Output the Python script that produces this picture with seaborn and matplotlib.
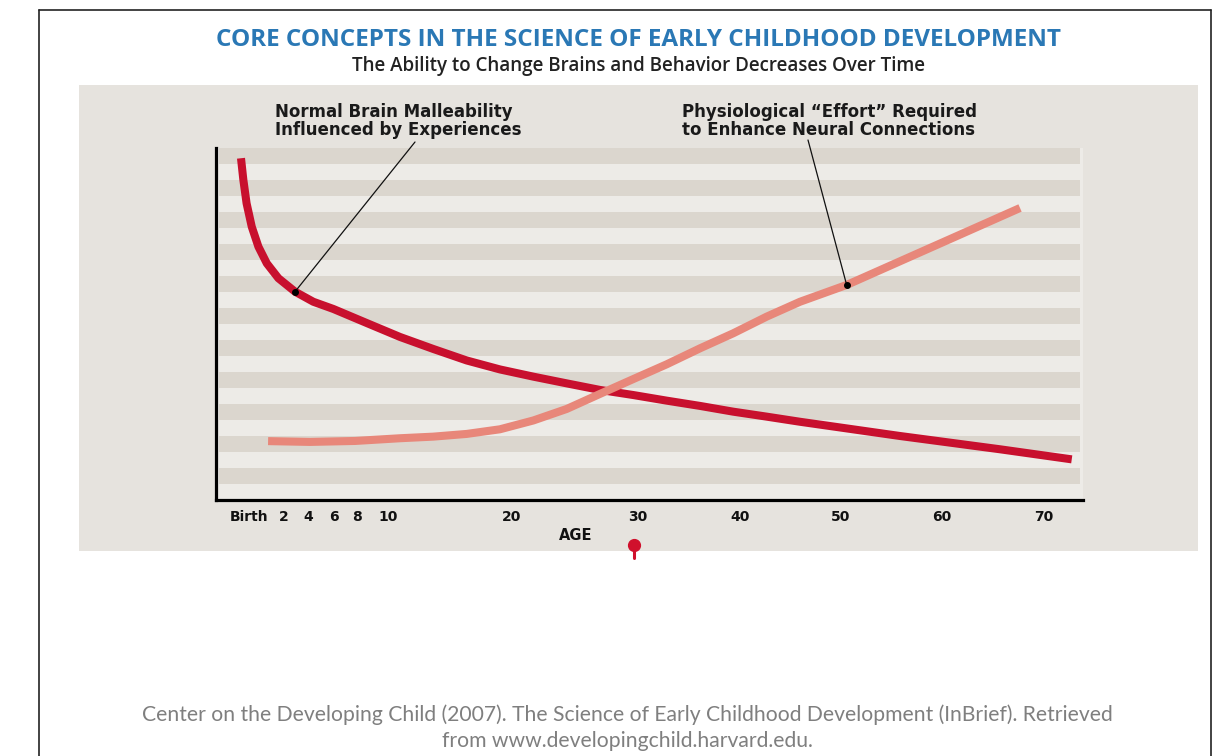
import numpy as np
import pandas as pd
import matplotlib
matplotlib.use("Agg")
import matplotlib.pyplot as plt
import matplotlib.transforms as mtrans
from matplotlib.patches import Rectangle
from matplotlib.lines import Line2D
import seaborn as sns

# ---------------- data ----------------
malleability_age = [0.0, 0.11, 0.26, 0.5, 0.81, 1.2, 1.74, 2.92, 4.41, 5.95,
                    8.63, 10.97, 13.65, 16.35, 19.03, 21.69, 24.34, 26.98, 29.63,
                    32.81, 36.08, 39.34, 42.64, 45.94, 55.84, 65.69, 72.72]
malleability_val = [21.36, 20.0, 18.54, 17.08, 15.83, 14.79, 13.86, 13.02, 12.39, 11.94,
                    11.06, 10.19, 9.44, 8.72, 8.16, 7.71, 7.29, 6.88, 6.56,
                    6.21, 5.88, 5.52, 5.21, 4.89, 4.0, 3.17, 2.54]

effort_age = [1.26, 4.15, 7.83, 10.97, 13.65, 16.35, 19.03, 21.69, 24.34, 26.98,
              29.63, 32.81, 36.08, 39.34, 42.64, 45.94, 50.56, 55.84, 67.65]
effort_val = [3.68, 3.63, 3.69, 3.86, 3.96, 4.13, 4.42, 4.97, 5.69, 6.63,
              7.56, 8.48, 9.48, 10.42, 11.46, 12.39, 13.44, 14.92, 18.25]

tick_ages = [0, 2, 4, 6, 8, 10, 20, 30, 40, 50, 60, 70]
tick_labels = ["Birth", "2", "4", "6", "8", "10", "20", "30", "40", "50", "60", "70"]

annot_texts = ["Normal Brain Malleability\nInfluenced by Experiences",
               "Physiological \u201cEffort\u201d Required\nto Enhance Neural Connections"]
annot_ages = [2.92, 50.56]

title = "CORE CONCEPTS IN THE SCIENCE OF EARLY CHILDHOOD DEVELOPMENT"
subtitle = "The Ability to Change Brains and Behavior Decreases Over Time"
footer = ("Center on the Developing Child (2007). The Science of Early Childhood "
          "Development (InBrief). Retrieved\nfrom www.developingchild.harvard.edu.")

# ---------------- style ----------------
RED = "#C8102E"
PINK = "#E8877A"
PANEL = "#E6E3DE"
LIGHT = "#EDEBE7"
DARK = "#DBD6CE"

sns.set_theme(style="white")
plt.rcParams["font.family"] = ["DejaVu Sans"]

W, H = 1225, 756
fig = plt.figure(figsize=(W / 100, H / 100), dpi=100)
fig.patch.set_facecolor("white")

def fx(px):
    return px / W

def fy(py):
    return 1 - py / H

# outer frame
for xs, ys in [((39, 39), (10, 760)), ((39, 1211), (10, 10)), ((1211, 1211), (10, 760))]:
    fig.add_artist(Line2D([fx(x) for x in xs], [fy(y) for y in ys], color="#222222",
                          lw=1.2, transform=fig.transFigure))

# gray panel
fig.add_artist(Rectangle((fx(79), fy(551)), fx(1198 - 79), (551 - 85) / H,
                         transform=fig.transFigure, facecolor=PANEL, edgecolor="none",
                         zorder=0))

# axes
ax_l, ax_r, ax_t, ax_b = 216, 1083, 148, 500
ax = fig.add_axes([fx(ax_l), fy(ax_b), fx(ax_r - ax_l), (ax_b - ax_t) / H])
ax.set_facecolor(LIGHT)

# piecewise age scale of the original graphic
scale_age = np.array([-5, 0, 2, 4, 6, 8, 10, 20, 30, 40, 50, 60, 70, 80], dtype=float)
scale_pos = np.array([133.5, 241, 284, 308, 334, 357, 388, 512, 638, 740, 841, 942, 1044, 1146],
                     dtype=float)

def fwd(a):
    return np.interp(a, scale_age, scale_pos)

def inv(p):
    return np.interp(p, scale_pos, scale_age)

ax.set_xscale("function", functions=(fwd, inv))
ax.set_xlim(inv(ax_l), inv(ax_r))
ax.set_ylim(0, 22)

# stripes
xmax_frac = (1080 - ax_l) / (ax_r - ax_l)
for k in range(11):
    ax.axhspan(2 * k + 1, 2 * k + 2, xmin=0.003, xmax=xmax_frac, color=DARK, lw=0, zorder=0)

df_m = pd.DataFrame({"age": malleability_age, "value": malleability_val})
df_e = pd.DataFrame({"age": effort_age, "value": effort_val})
sns.lineplot(data=df_e, x="age", y="value", color=PINK, linewidth=5.8, sort=False,
             ax=ax, zorder=3)
sns.lineplot(data=df_m, x="age", y="value", color=RED, linewidth=5.8, sort=False,
             ax=ax, zorder=2)
for ln in ax.lines:
    ln.set_solid_capstyle("butt")
    ln.set_solid_joinstyle("round")

# spines
for s in ["top", "right"]:
    ax.spines[s].set_visible(False)
for s in ["left", "bottom"]:
    ax.spines[s].set_color("black")
    ax.spines[s].set_linewidth(2.3)

ax.set_yticks([])
ax.set_xticks(tick_ages)
ax.set_xticklabels(tick_labels, fontsize=10, fontweight="bold", color="#111111")
ax.tick_params(axis="x", length=0, pad=7)
# nudge "Birth" right like the original
lab0 = ax.get_xticklabels()[0]
lab0.set_transform(lab0.get_transform() + mtrans.ScaledTranslation(8 / 100, 0, fig.dpi_scale_trans))

ax.set_xlabel("AGE", fontsize=10.5, fontweight="bold", color="#111111")
ax.xaxis.set_label_coords((576 - ax_l) / (ax_r - ax_l), -(535 - ax_b) / (ax_b - ax_t))
ax.xaxis.label.set_va("center")
ax.set_ylabel("")

# red pin under the axis at age 30
pin_tr = mtrans.blended_transform_factory(ax.transData, fig.transFigure)
ax.add_artist(Line2D([30 - 0.35, 30 - 0.35], [fy(545), fy(558)], color="#D0102C", lw=2.2,
                     transform=pin_tr, clip_on=False))
ax.plot([30 - 0.35], [fy(545)], marker="o", markersize=8.5, color="#D0102C",
        transform=pin_tr, clip_on=False)

# annotations
annot_text_pos = [(275, 103), (682, 103)]
annot_line_start = [(415, 142), (808, 140)]
series = [(malleability_age, malleability_val), (effort_age, effort_val)]
for txt, a, (tx, ty), (lx, ly), (sa, sv) in zip(annot_texts, annot_ages, annot_text_pos,
                                                annot_line_start, series):
    fig.text(fx(tx), fy(ty), txt, ha="left", va="top", fontsize=12, fontweight="bold",
             color="#1a1a1a", linespacing=1.0)
    yv = float(np.interp(a, sa, sv))
    ax.annotate("", xy=(a, yv), xycoords="data",
                xytext=(lx, H - ly), textcoords="figure pixels",
                arrowprops=dict(arrowstyle="-", color="#111111", lw=0.9,
                                shrinkA=0, shrinkB=0), zorder=5, annotation_clip=False)
    ax.plot([a], [yv], marker="o", markersize=4, color="black", zorder=6)

# titles
fig.text(fx(639), fy(40), title, ha="center", va="center", fontsize=17.5,
         fontweight="bold", color="#2A78B5", family=["Open Sans", "DejaVu Sans"])
fig.text(fx(638), fy(66), subtitle, ha="center", va="center", fontsize=13.5,
         fontweight="semibold", color="#222222", family=["Open Sans", "DejaVu Sans"])

fig.text(fx(627), fy(728), footer, ha="center", va="center", fontsize=15.2,
         color="#7F7F7F", family=["Lato", "DejaVu Sans"], linespacing=1.38)

fig.savefig("out.png", dpi=100, facecolor="white")
